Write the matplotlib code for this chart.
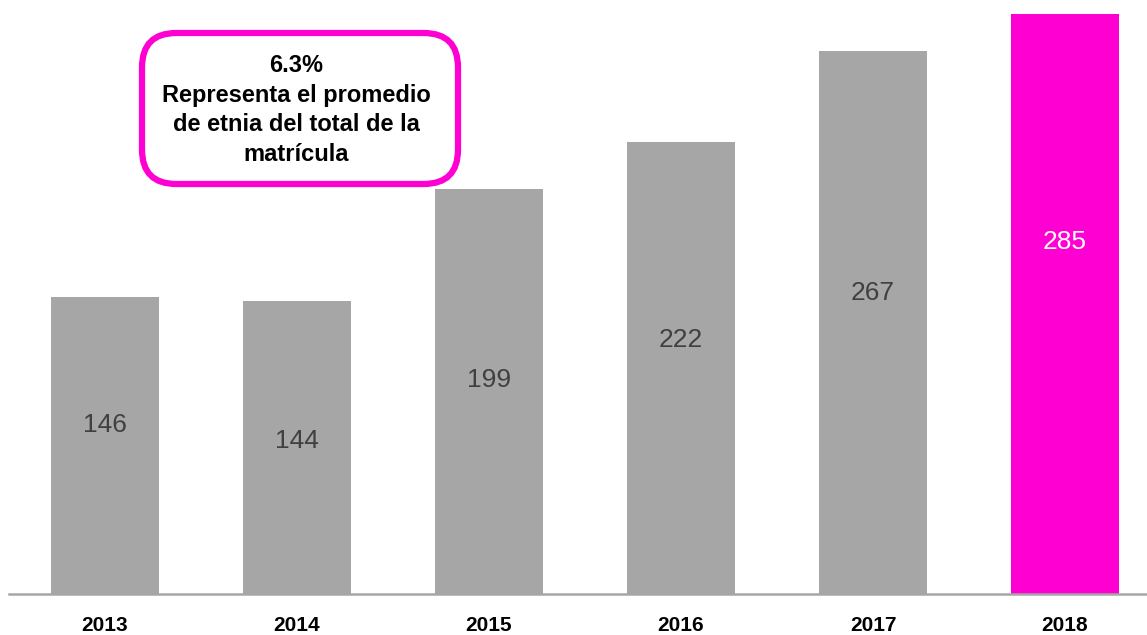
import matplotlib.pyplot as plt
from matplotlib.patches import FancyBboxPatch

years = ['2013', '2014', '2015', '2016', '2017', '2018']
values = [146, 144, 199, 222, 267, 285]
# where the value labels sit inside each bar (data units)
label_y = [83, 75, 105, 125, 148, 173]

gray = '#A6A6A6'
pink = '#FF00D2'
colors = [gray] * 5 + [pink]
label_colors = ['#404040'] * 5 + ['white']
font = ['Liberation Sans', 'DejaVu Sans']

fig = plt.figure(figsize=(11.47, 6.35), dpi=100)
ax = fig.add_axes([0, 0.0646, 1, 0.9354])

x = list(range(len(years)))
ax.bar(x, values, width=0.5625, color=colors)

for xi, v, ly, c in zip(x, values, label_y, label_colors):
    ax.text(xi, ly, str(v), ha='center', va='center', fontsize=19,
            color=c, family=font)

ax.set_xlim(-0.547, 5.427)
ax.set_ylim(0, 292)
ax.set_yticks([])
ax.set_xticks(x)
ax.set_xticklabels(years, fontsize=15, fontweight='bold', family=font)
ax.tick_params(axis='x', length=0, pad=16)
for s in ['top', 'left', 'right']:
    ax.spines[s].set_visible(False)
ax.spines['bottom'].set_color('#A6A6A6')
ax.spines['bottom'].set_linewidth(1.8)
ax.spines['bottom'].set_bounds(-0.5, 5.427)

# callout box (figure pixel coords converted to fraction)
W, H = 1147, 635
box = FancyBboxPatch((142 / W, 1 - 184 / H), (458 - 142) / W, (184 - 33) / H,
                     boxstyle='round,pad=0,rounding_size=0.03',
                     transform=fig.transFigure, facecolor='white',
                     edgecolor=pink, linewidth=4.5, mutation_aspect=W / H,
                     zorder=5)
fig.patches.append(box)
fig.text(296 / W, 1 - 110 / H,
         '6.3%\nRepresenta el promedio\nde etnia del total de la\nmatrícula',
         ha='center', va='center', fontsize=17, fontweight='bold',
         linespacing=1.38, family=font, zorder=6)

fig.savefig('out.png', dpi=100)
